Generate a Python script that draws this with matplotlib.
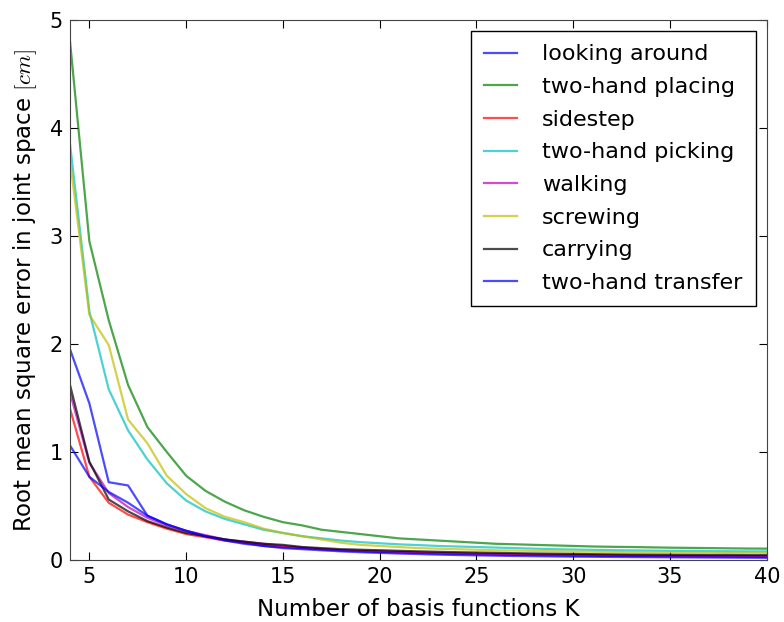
import numpy as np
import matplotlib
matplotlib.use('Agg')
import matplotlib.pyplot as plt

plt.rcParams['mathtext.fontset'] = 'cm'

K = np.arange(4, 41)

looking_around = [1.95, 1.45, 0.72, 0.69, 0.41, 0.33, 0.27, 0.22, 0.19, 0.16, 0.13, 0.12,
                  0.11, 0.10, 0.09, 0.082, 0.075, 0.07, 0.065, 0.06, 0.057, 0.054, 0.051,
                  0.048, 0.046, 0.044, 0.042, 0.04, 0.038, 0.037, 0.036, 0.035, 0.034,
                  0.033, 0.032, 0.031, 0.03]
two_hand_placing = [4.80, 2.95, 2.22, 1.62, 1.23, 1.00, 0.78, 0.64, 0.54, 0.46, 0.40, 0.35,
                    0.32, 0.28, 0.26, 0.24, 0.22, 0.20, 0.19, 0.18, 0.17, 0.16, 0.15, 0.145,
                    0.14, 0.135, 0.13, 0.125, 0.122, 0.12, 0.117, 0.114, 0.112, 0.11, 0.108,
                    0.106, 0.105]
sidestep = [1.40, 0.77, 0.53, 0.42, 0.35, 0.29, 0.24, 0.21, 0.18, 0.16, 0.14, 0.12,
            0.11, 0.10, 0.09, 0.085, 0.08, 0.075, 0.07, 0.066, 0.062, 0.059, 0.056,
            0.053, 0.051, 0.049, 0.047, 0.045, 0.043, 0.042, 0.041, 0.04, 0.039,
            0.038, 0.037, 0.036, 0.035]
two_hand_picking = [3.85, 2.30, 1.58, 1.20, 0.93, 0.71, 0.55, 0.45, 0.38, 0.33, 0.28, 0.25,
                    0.22, 0.20, 0.18, 0.165, 0.155, 0.145, 0.138, 0.13, 0.125, 0.12, 0.115,
                    0.11, 0.105, 0.10, 0.097, 0.094, 0.091, 0.089, 0.087, 0.085, 0.083,
                    0.082, 0.081, 0.08, 0.08]
walking = [1.55, 0.90, 0.62, 0.49, 0.39, 0.32, 0.27, 0.23, 0.19, 0.17, 0.15, 0.13,
           0.115, 0.10, 0.09, 0.083, 0.077, 0.072, 0.067, 0.063, 0.059, 0.055, 0.052,
           0.049, 0.047, 0.045, 0.043, 0.041, 0.039, 0.037, 0.036, 0.035, 0.034,
           0.033, 0.032, 0.031, 0.03]
screwing = [3.70, 2.27, 1.99, 1.30, 1.08, 0.78, 0.61, 0.48, 0.40, 0.35, 0.29, 0.25,
            0.22, 0.19, 0.16, 0.14, 0.13, 0.12, 0.11, 0.105, 0.10, 0.095, 0.09, 0.087,
            0.084, 0.081, 0.078, 0.076, 0.074, 0.072, 0.07, 0.069, 0.068, 0.067, 0.066,
            0.065, 0.065]
carrying = [1.62, 0.91, 0.56, 0.45, 0.36, 0.30, 0.25, 0.22, 0.19, 0.17, 0.15, 0.14,
            0.12, 0.11, 0.10, 0.095, 0.09, 0.085, 0.08, 0.076, 0.072, 0.069, 0.066,
            0.063, 0.06, 0.058, 0.056, 0.054, 0.052, 0.05, 0.049, 0.048, 0.047, 0.046,
            0.046, 0.045, 0.045]
two_hand_transfer = [1.06, 0.77, 0.63, 0.53, 0.41, 0.33, 0.27, 0.22, 0.18, 0.15, 0.13, 0.11,
                     0.10, 0.09, 0.08, 0.072, 0.066, 0.06, 0.055, 0.05, 0.046, 0.043, 0.04,
                     0.037, 0.035, 0.033, 0.031, 0.03, 0.028, 0.027, 0.026, 0.025, 0.024,
                     0.023, 0.022, 0.021, 0.02]

series = [
    ('looking around', looking_around, 'b'),
    ('two-hand placing', two_hand_placing, 'g'),
    ('sidestep', sidestep, 'r'),
    ('two-hand picking', two_hand_picking, 'c'),
    ('walking', walking, 'm'),
    ('screwing', screwing, 'y'),
    ('carrying', carrying, 'k'),
    ('two-hand transfer', two_hand_transfer, 'b'),
]

fig = plt.figure(figsize=(7.84, 6.22), dpi=100)
ax = fig.add_axes([0.0893, 0.0997, 0.8887, 0.8683])

for name, vals, col in series:
    ax.plot(K, vals, color=col, lw=1.6, alpha=0.7, label=name)

ax.set_xlim(4, 40)
ax.set_ylim(0, 5)
ax.set_xticks([5, 10, 15, 20, 25, 30, 35, 40])
ax.set_yticks([0, 1, 2, 3, 4, 5])
ax.tick_params(direction='in', top=True, right=True, length=6, labelsize=15, pad=5)
for s in ax.spines.values():
    s.set_color('#444444')

ax.set_xlabel('Number of basis functions K', fontsize=16.5, labelpad=8)
ax.set_ylabel(r'Root mean square error in joint space $[cm]$', fontsize=16.5, labelpad=8)

leg = ax.legend(loc='upper right', fontsize=16, fancybox=False, framealpha=1,
                edgecolor='black', borderaxespad=0.5, handlelength=1.5,
                handletextpad=1.1, labelspacing=0.57, borderpad=0.6)
leg.get_frame().set_linewidth(1.0)

fig.savefig('out.png', dpi=100, facecolor='white')
